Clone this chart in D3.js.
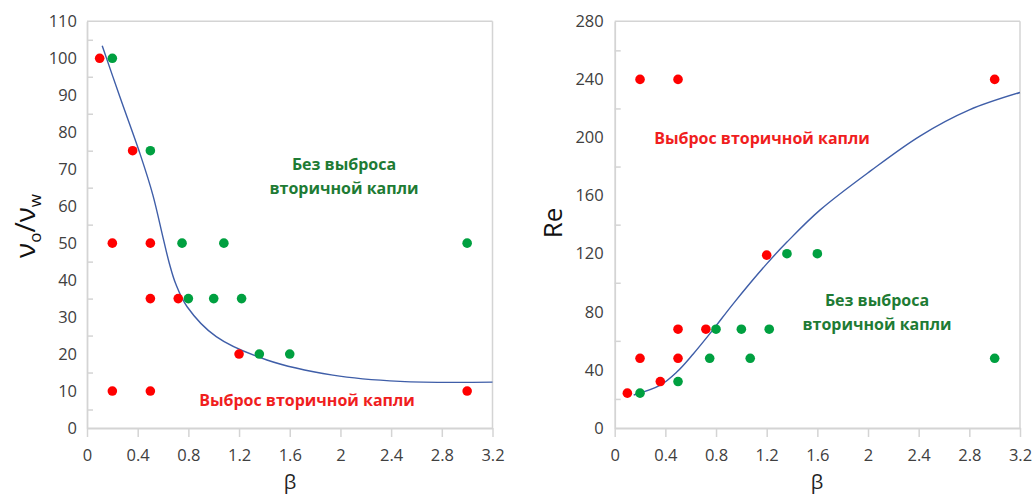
<!DOCTYPE html>
<html><head><meta charset="utf-8">
<script src="https://cdn.jsdelivr.net/npm/d3@7/dist/d3.min.js"></script>
<style>
html,body{margin:0;padding:0;background:#fff;}
svg{display:block;font-family:"Open Sans",sans-serif;}
</style></head>
<body><svg id="c" width="1033" height="495"></svg>
<script>
// ---- data ----
const xTicks = [0, 0.4, 0.8, 1.2, 1.6, 2, 2.4, 2.8, 3.2];
const leftYTicks = [0,10,20,30,40,50,60,70,80,90,100,110];
const leftYMinor = [5,15,25,35,45,55,65,75,85,95,105];
const rightYTicks = [0,40,80,120,160,200,240,280];
const rightYMinor = [20,60,100,140,180,220,260];

const leftRedBeta = [0.1, 0.36, 0.2, 0.5, 0.5, 0.72, 1.2, 0.2, 0.5, 3.0];
const leftRedVal  = [100, 75, 50, 50, 35, 35, 20, 10, 10, 10];
const leftGreenBeta = [0.2, 0.5, 0.75, 1.08, 3.0, 0.8, 1.0, 1.22, 1.36, 1.6];
const leftGreenVal  = [100, 75, 50, 50, 50, 35, 35, 35, 20, 20];
const leftCurveBeta = [0.12, 0.26, 0.42, 0.52, 0.6, 0.65, 0.7, 0.79, 1.02, 1.42, 1.94, 2.47, 3.2];
const leftCurveVal  = [103.4, 89.5, 74, 63, 51.5, 44.5, 39, 32.8, 24.7, 18.4, 14.3, 12.6, 12.4];

const rightRedBeta = [0.1, 0.2, 0.5, 3.0, 0.2, 0.5, 0.36, 0.5, 0.72, 1.2];
const rightRedVal  = [24, 240, 240, 240, 48, 48, 32, 68, 68, 119];
const rightGreenBeta = [0.2, 0.5, 0.8, 1.0, 1.22, 0.75, 1.07, 1.36, 1.6, 3.0];
const rightGreenVal  = [24, 32, 68, 68, 68, 48, 48, 120, 120, 48];
const rightCurveBeta = [0.15, 0.36, 0.49, 0.62, 0.77, 0.94, 1.2, 1.36, 1.62, 2.02, 2.41, 2.8, 3.2];
const rightCurveVal  = [22.7, 29.5, 38.5, 51, 67, 86, 113, 128, 150, 177, 201, 219, 231];

const labelNo = ["Без выброса", "вторичной капли"];
const labelYes = "Выброс вторичной капли";

// ---- styles ----
const RED = "#ff0000", GREEN = "#00a040", LINE = "#3f5ea8";
const AXIS = "#d4d4d4", TXT = "#404040";
const GTXT = "#1e7b34", RTXT = "#f01e1e";

const svg = d3.select("#c");

function panel(o) {
  const x = d3.scaleLinear().domain([0, 3.2]).range([o.x0, o.x1]);
  const y = d3.scaleLinear().domain([0, o.ymax]).range([428, 21.3]);
  const g = svg.append("g");
  g.append("line").attr("x1", o.x0).attr("x2", o.x1).attr("y1", y(o.ymax)).attr("y2", y(o.ymax))
    .attr("stroke", AXIS).attr("stroke-width", 1.5);
  g.append("line").attr("x1", o.x1).attr("x2", o.x1).attr("y1", y(o.ymax)).attr("y2", y(0))
    .attr("stroke", AXIS).attr("stroke-width", 1.5);
  const xa = g.append("g").attr("transform", `translate(0,${y(0)})`)
    .call(d3.axisBottom(x).tickValues(xTicks).tickSize(9).tickSizeOuter(0).tickPadding(12)
      .tickFormat(d => d3.format("")(+d.toFixed(1))));
  xa.select(".domain").attr("stroke", AXIS).attr("stroke-width", 1.8);
  xa.selectAll(".tick line").attr("stroke", AXIS).attr("stroke-width", 1.5);
  xa.selectAll(".tick text").attr("fill", TXT).attr("font-size", 16.5).attr("font-family", "Open Sans");
  const ya = g.append("g").attr("transform", `translate(${o.x0},0)`)
    .call(d3.axisLeft(y).tickValues(o.yTicks).tickSize(0).tickSizeOuter(0).tickPadding(o.pad));
  ya.select(".domain").attr("stroke", AXIS).attr("stroke-width", 1.8);
  ya.selectAll(".tick text").attr("fill", TXT).attr("font-size", 16.5).attr("font-family", "Open Sans");
  const ym = g.append("g").attr("transform", `translate(${o.x0},0)`)
    .call(d3.axisRight(y).tickValues(o.yMinor).tickSize(6).tickFormat(""));
  ym.select(".domain").remove();
  ym.selectAll(".tick line").attr("stroke", AXIS).attr("stroke-width", 1.5);

  const line = d3.line().x(d => x(d[0])).y(d => y(d[1])).curve(d3.curveCatmullRom.alpha(0.5));
  g.append("path").datum(d3.zip(o.cb, o.cv)).attr("d", line)
    .attr("fill", "none").attr("stroke", LINE).attr("stroke-width", 1.4);
  g.selectAll(".r").data(d3.zip(o.rb, o.rv)).join("circle")
    .attr("cx", d => x(d[0])).attr("cy", d => y(d[1])).attr("r", 4.8).attr("fill", RED);
  g.selectAll(".g").data(d3.zip(o.gb, o.gv)).join("circle")
    .attr("cx", d => x(d[0])).attr("cy", d => y(d[1])).attr("r", 4.8).attr("fill", GREEN);

  g.append("text").attr("x", o.xt).attr("y", 489).attr("text-anchor", "middle")
    .attr("font-size", 20).attr("fill", "#222").attr("font-family", "Open Sans").text("β");
  return {x, y, g};
}

panel({x0: 87, x1: 492.5, ymax: 110, yTicks: leftYTicks, yMinor: leftYMinor, pad: 10,
  cb: leftCurveBeta, cv: leftCurveVal, rb: leftRedBeta, rv: leftRedVal, gb: leftGreenBeta, gv: leftGreenVal, xt: 290});
panel({x0: 614.7, x1: 1020, ymax: 280, yTicks: rightYTicks, yMinor: rightYMinor, pad: 11,
  cb: rightCurveBeta, cv: rightCurveVal, rb: rightRedBeta, rv: rightRedVal, gb: rightGreenBeta, gv: rightGreenVal, xt: 817});

const lt = svg.append("text").attr("transform", "translate(35,226) rotate(-90)")
  .attr("text-anchor", "middle").attr("font-size", 28).attr("fill", "#111").attr("font-family", "Open Sans");
lt.append("tspan").text("ν");
lt.append("tspan").attr("font-size", 17).attr("dy", 6).text("o");
lt.append("tspan").attr("dy", -6).text("/ν");
lt.append("tspan").attr("font-size", 17).attr("dy", 6).text("w");

svg.append("text").attr("transform", "translate(562,223) rotate(-90)")
  .attr("text-anchor", "middle").attr("font-size", 26).attr("fill", "#111").attr("font-family", "Open Sans").text("Re");

function ann(xp, yp, lines, color) {
  const t = svg.append("text").attr("text-anchor", "middle").attr("font-size", 16)
    .attr("font-weight", "bold").attr("fill", color).attr("font-family", "Open Sans");
  lines.forEach((s, i) => t.append("tspan").attr("x", xp).attr("y", yp + i * 24).text(s));
}
ann(344, 170, labelNo, GTXT);
ann(307, 406, [labelYes], RTXT);
ann(762, 144, [labelYes], RTXT);
ann(877, 306, labelNo, GTXT);
</script></body></html>
